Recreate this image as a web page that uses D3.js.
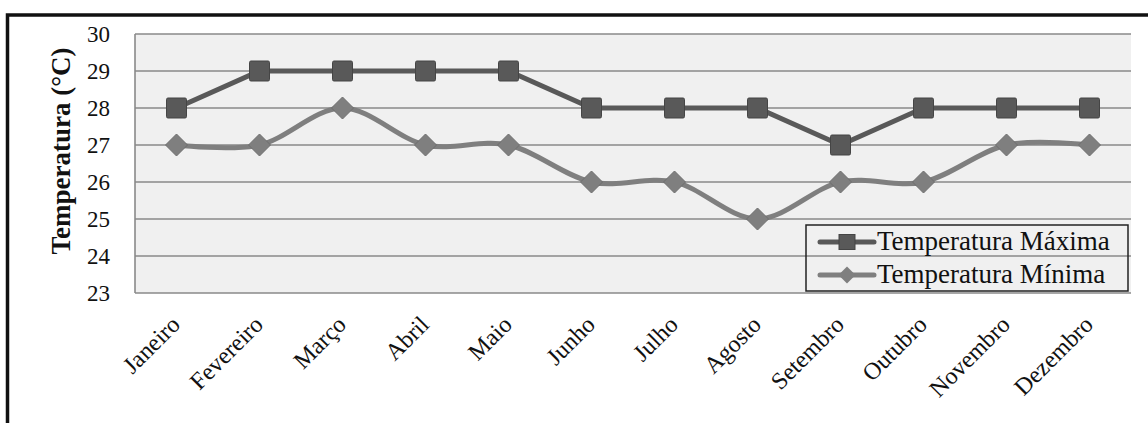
<!DOCTYPE html>
<html>
<head>
<meta charset="utf-8">
<script src="https://cdn.jsdelivr.net/npm/d3@7"></script>
<style>
  html, body { margin: 0; padding: 0; background: #ffffff; }
  svg { display: block; }
  text { font-family: "Liberation Serif", "Times New Roman", serif; fill: #111; }
</style>
</head>
<body>
<svg id="chart" width="1148" height="423"></svg>
<script>
// Monthly temperatures (°C)
const months = ["Janeiro", "Fevereiro", "Março", "Abril", "Maio", "Junho",
                "Julho", "Agosto", "Setembro", "Outubro", "Novembro", "Dezembro"];
const tempMax = [28, 29, 29, 29, 29, 28, 28, 28, 27, 28, 28, 28];
const tempMin = [27, 27, 28, 27, 27, 26, 26, 25, 26, 26, 27, 27];
const yTicks = [23, 24, 25, 26, 27, 28, 29, 30];
const seriesNames = ["Temperatura Máxima", "Temperatura Mínima"];
const yTitle = "Temperatura (°C)";

const svg = d3.select("#chart");
const plot = { left: 135, top: 34, right: 1131, bottom: 293 };

const x = d3.scaleBand().domain(months).range([plot.left, plot.right]);
const y = d3.scaleLinear().domain([23, 30]).range([plot.bottom, plot.top]);
const cx = m => x(m) + x.bandwidth() / 2;

// outer frame (top and left edges visible)
svg.append("path")
  .attr("d", `M7.5,423 L7.5,15 L1148,15`)
  .attr("fill", "none").attr("stroke", "#111").attr("stroke-width", 3.5);

// plot area background
svg.append("rect")
  .attr("x", plot.left).attr("y", plot.top)
  .attr("width", plot.right - plot.left).attr("height", plot.bottom - plot.top)
  .attr("fill", "#f0f0f0");

// horizontal gridlines
svg.append("g").selectAll("line").data(yTicks).join("line")
  .attr("x1", plot.left).attr("x2", plot.right)
  .attr("y1", d => y(d)).attr("y2", d => y(d))
  .attr("stroke", "#8a8a8a").attr("stroke-width", 1.6);

// left axis line
svg.append("line")
  .attr("x1", plot.left).attr("x2", plot.left)
  .attr("y1", plot.top).attr("y2", plot.bottom)
  .attr("stroke", "#8a8a8a").attr("stroke-width", 1.6);

// y tick labels
svg.append("g").selectAll("text").data(yTicks).join("text")
  .attr("x", 110).attr("y", d => y(d)).attr("dy", "0.35em")
  .attr("text-anchor", "end").attr("font-size", 23)
  .text(d => d);

// y axis title
svg.append("text")
  .attr("transform", `translate(70,151) rotate(-90)`)
  .attr("text-anchor", "middle").attr("font-size", 27).attr("font-weight", "bold")
  .text(yTitle);

// x tick labels, rotated
svg.append("g").selectAll("text").data(months).join("text")
  .attr("transform", d => `translate(${cx(d) + 5},${plot.bottom + 33}) rotate(-45)`)
  .attr("text-anchor", "end").attr("font-size", 24)
  .text(d => d);

const colMax = "#595959", colMin = "#7f7f7f";

// Maximum: straight segments with square markers
const lineMax = d3.line().x((d, i) => cx(months[i])).y(d => y(d));
svg.append("path").datum(tempMax)
  .attr("d", lineMax).attr("fill", "none")
  .attr("stroke", colMax).attr("stroke-width", 5).attr("stroke-linejoin", "round");

// Minimum: smoothed curve with diamond markers
const lineMin = d3.line().x((d, i) => cx(months[i])).y(d => y(d))
  .curve(d3.curveCardinal.tension(0));
svg.append("path").datum(tempMin)
  .attr("d", lineMin).attr("fill", "none")
  .attr("stroke", colMin).attr("stroke-width", 5);

const sq = 20, dm = 11;
svg.append("g").selectAll("rect").data(tempMax).join("rect")
  .attr("x", (d, i) => cx(months[i]) - sq / 2)
  .attr("y", d => y(d) - sq / 2)
  .attr("width", sq).attr("height", sq).attr("rx", 1.5)
  .attr("fill", colMax).attr("stroke", "#454545").attr("stroke-width", 1);

const diamond = (px, py, r) => `M${px},${py - r} L${px + r},${py} L${px},${py + r} L${px - r},${py} Z`;
svg.append("g").selectAll("path").data(tempMin).join("path")
  .attr("d", (d, i) => diamond(cx(months[i]), y(d), dm))
  .attr("fill", colMin).attr("stroke", "#6e6e6e").attr("stroke-width", 1);

// legend
const lg = svg.append("g");
lg.append("rect")
  .attr("x", 806).attr("y", 225).attr("width", 322).attr("height", 66)
  .attr("fill", "none").attr("stroke", "#222").attr("stroke-width", 1.5);
const rows = [
  { name: seriesNames[0], color: colMax, shape: "square", cy: 242 },
  { name: seriesNames[1], color: colMin, shape: "diamond", cy: 275 }
];
rows.forEach(r => {
  lg.append("line")
    .attr("x1", 820).attr("x2", 874).attr("y1", r.cy).attr("y2", r.cy)
    .attr("stroke", r.color).attr("stroke-width", 5).attr("stroke-linecap", "round");
  if (r.shape === "square") {
    lg.append("rect").attr("x", 839).attr("y", r.cy - 7.5)
      .attr("width", 16).attr("height", 15)
      .attr("fill", r.color).attr("stroke", "#454545").attr("stroke-width", 1);
  } else {
    lg.append("path").attr("d", diamond(847, r.cy, 8.5)).attr("fill", r.color);
  }
  lg.append("text").attr("x", 877).attr("y", r.cy + 8)
    .attr("font-size", 27).text(r.name);
});
</script>
</body>
</html>
